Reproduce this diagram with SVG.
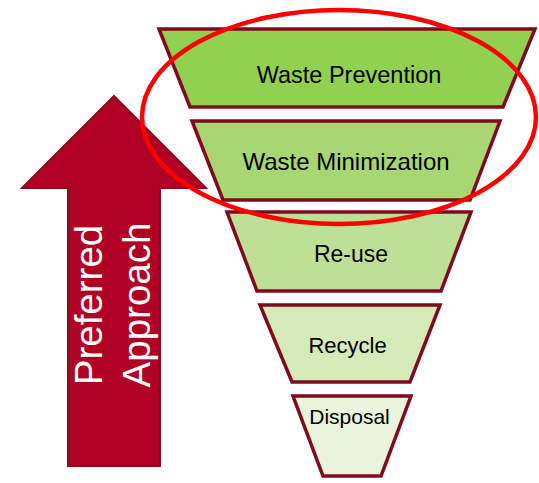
<svg xmlns="http://www.w3.org/2000/svg" width="539" height="483" viewBox="0 0 539 483">
  <style>
    .tier { stroke: #7F0A1E; stroke-width: 3.5; stroke-linejoin: miter; }
    .label { font-family: "Liberation Sans", Arial, sans-serif; fill: #000000; text-anchor: middle; }
    .arrow-label { font-family: "Liberation Sans", Arial, sans-serif; fill: #FFFFFF; font-size: 38.5px; text-anchor: middle; }
  </style>
  <rect width="539" height="483" fill="#FFFFFF"/>

  <!-- Upward arrow: preferred approach -->
  <g id="preferred-approach">
    <polygon points="114,96 206,188 160,188 160,466 68,466 68,188 22,188" fill="#B00024" stroke="#8A0A20" stroke-width="2" stroke-linejoin="miter"/>
    <text class="arrow-label" transform="translate(102,305) rotate(-90)" x="0" y="0">Preferred</text>
    <text class="arrow-label" transform="translate(150,305) rotate(-90)" x="0" y="0">Approach</text>
  </g>

  <!-- Waste hierarchy funnel tiers -->
  <g id="waste-prevention">
    <polygon class="tier" points="159,29 535,29 503,107 190,107" fill="#92D050"/>
    <text class="label" x="349" y="83" font-size="23.5">Waste Prevention</text>
  </g>
  <g id="waste-minimization">
    <polygon class="tier" points="192,121 500,121 470,200 223,200" fill="#A8D672"/>
    <text class="label" x="346" y="170" font-size="24">Waste Minimization</text>
  </g>
  <g id="re-use">
    <polygon class="tier" points="227,212 471,212 441,291 257,291" fill="#BDDF96"/>
    <text class="label" x="351" y="262" font-size="23">Re-use</text>
  </g>
  <g id="recycle">
    <polygon class="tier" points="260,305 440,305 410,382 292,382" fill="#D4EAB9"/>
    <text class="label" x="347.5" y="353" font-size="22">Recycle</text>
  </g>
  <g id="disposal">
    <polygon class="tier" points="293,396 411,396 381,476 323,476" fill="#E9F4DC"/>
    <text class="label" x="349.5" y="424" font-size="21">Disposal</text>
  </g>

  <!-- Highlight ring around the top two tiers -->
  <g id="highlight">
    <ellipse cx="339" cy="117" rx="197" ry="107" fill="none" stroke="#FF0000" stroke-width="4.5"/>
  </g>
</svg>
